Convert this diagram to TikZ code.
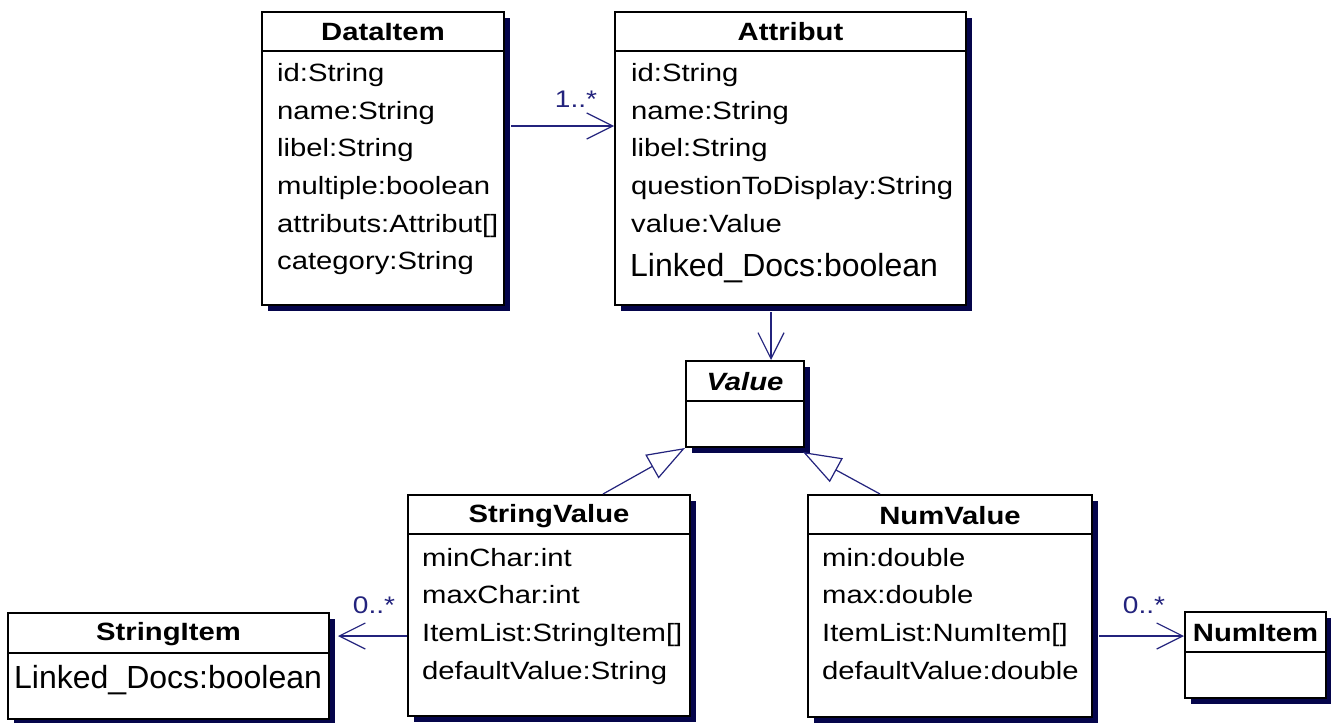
\documentclass[tikz,border=0pt]{standalone}
\usepackage{fontspec}
\setmainfont{Liberation Sans}
\newfontfamily\umlfont[FakeStretch=1.17]{Liberation Sans}
\newfontfamily\bigfont{Liberation Sans}
\usetikzlibrary{arrows.meta,shadows,calc}
\definecolor{linkblue}{RGB}{35,35,125}
\definecolor{shadownavy}{RGB}{5,5,75}
\begin{document}
\begin{tikzpicture}[x=1pt,y=-1pt,
  classbox/.style={draw=black, line width=2pt, fill=white, inner sep=0pt,
    drop shadow={shadow xshift=6pt, shadow yshift=-6pt, fill=shadownavy, opacity=1}},
  divider/.style={draw=black, line width=2pt},
  title/.style={font=\umlfont\bfseries\fontsize{25}{30}\selectfont, inner sep=0pt},
  atitle/.style={font=\umlfont\bfseries\itshape\fontsize{25}{30}\selectfont, inner sep=0pt},
  attr/.style={font=\umlfont\fontsize{25}{30}\selectfont, anchor=west, inner sep=0pt, text height=18pt, text depth=5pt},
  bigattr/.style={font=\bigfont\fontsize{32}{36}\selectfont, anchor=west, inner sep=0pt, text height=23pt, text depth=7pt},
  mult/.style={font=\umlfont\fontsize{24}{28}\selectfont, text=linkblue, inner sep=0pt},
  assoc/.style={draw=linkblue, line width=1.5pt, -{Straight Barb[length=26pt,width=26pt,line width=1.2pt]}},
  gen/.style={draw=linkblue, line width=1.2pt, -{Triangle[open, length=38pt, width=27pt, fill=white, line width=1.2pt]}}
]
\useasboundingbox[fill=white] (0,0) rectangle (1331,723);

% DataItem
\node[classbox, minimum width=242pt, minimum height=293pt] (dataitem) at (383,158.5) {};
\draw[divider] (dataitem.west |- 0,51) -- (dataitem.east |- 0,51);
\node[title] (dataitemT) at (dataitem.north |- 0,32) {DataItem};
\node[attr] (d1) at (277,75) {id:String};
\node[attr] (d2) at (277,113) {name:String};
\node[attr] (d3) at (277,150) {libel:String};
\node[attr] (d4) at (277,188) {multiple:boolean};
\node[attr] (d5) at (277,226) {attributs:Attribut[]};
\node[attr] (d6) at (277,263) {category:String};

% Attribut
\node[classbox, minimum width=351pt, minimum height=293pt] (attribut) at (790.5,158.5) {};
\draw[divider] (attribut.west |- 0,51) -- (attribut.east |- 0,51);
\node[title] (attributT) at (attribut.north |- 0,32) {Attribut};
\node[attr] (a1) at (631,75) {id:String};
\node[attr] (a2) at (631,113) {name:String};
\node[attr] (a3) at (631,150) {libel:String};
\node[attr] (a4) at (631,188) {questionToDisplay:String};
\node[attr] (a5) at (631,226) {value:Value};
\node[bigattr] (a6) at (630,268) {Linked\_Docs:boolean};

% Value
\node[classbox, minimum width=118pt, minimum height=86pt] (value) at (745,404) {};
\draw[divider] (value.west |- 0,401) -- (value.east |- 0,401);
\node[atitle] (valueT) at (value.north |- 0,382) {Value};

% StringValue
\node[classbox, minimum width=282pt, minimum height=221pt] (stringvalue) at (549,605.5) {};
\draw[divider] (stringvalue.west |- 0,534) -- (stringvalue.east |- 0,534);
\node[title] (stringvalueT) at (stringvalue.north |- 0,516) {StringValue};
\node[attr] (s1) at (422,560) {minChar:int};
\node[attr] (s2) at (422,597) {maxChar:int};
\node[attr] (s3) at (422,635) {ItemList:StringItem[]};
\node[attr] (s4) at (422,673) {defaultValue:String};

% NumValue
\node[classbox, minimum width=284pt, minimum height=222pt] (numvalue) at (950,606) {};
\draw[divider] (numvalue.west |- 0,534) -- (numvalue.east |- 0,534);
\node[title] (numvalueT) at (numvalue.north |- 0,516) {NumValue};
\node[attr] (n1) at (822,560) {min:double};
\node[attr] (n2) at (822,597) {max:double};
\node[attr] (n3) at (822,635) {ItemList:NumItem[]};
\node[attr] (n4) at (822,673) {defaultValue:double};

% StringItem
\node[classbox, minimum width=321pt, minimum height=106pt] (stringitem) at (168.5,666) {};
\draw[divider] (stringitem.west |- 0,653) -- (stringitem.east |- 0,653);
\node[title] (stringitemT) at (stringitem.north |- 0,634) {StringItem};
\node[bigattr] (si1) at (14,680) {Linked\_Docs:boolean};

% NumItem
\node[classbox, minimum width=141pt, minimum height=86pt] (numitem) at (1255.5,655) {};
\draw[divider] (numitem.west |- 0,652) -- (numitem.east |- 0,652);
\node[title] (numitemT) at (numitem.north |- 0,633) {NumItem};

% connectors
\draw[assoc] ($(dataitem.east |- 0,126)+(6,0)$) -- (attribut.west |- 0,126);
\draw[assoc] ($(attribut.south -| 771,0)+(0,6)$) -- (value.north -| 771,0);
\draw[assoc] (stringvalue.west |- 0,636) -- ($(stringitem.east |- 0,636)+(8,0)$);
\draw[assoc] ($(numvalue.east |- 0,636)+(6,0)$) -- (numitem.west |- 0,636);
\draw[gen] (stringvalue.north -| 603,0) -- (value.south west);
\draw[gen] (numvalue.north -| 880,0) -- ($(value.south east)+(-2,4)$);

% multiplicities
\node[mult] (m1) at (576,99) {1..*};
\node[mult] (m2) at (374,605) {0..*};
\node[mult] (m3) at (1144,605) {0..*};
\end{tikzpicture}
\end{document}
